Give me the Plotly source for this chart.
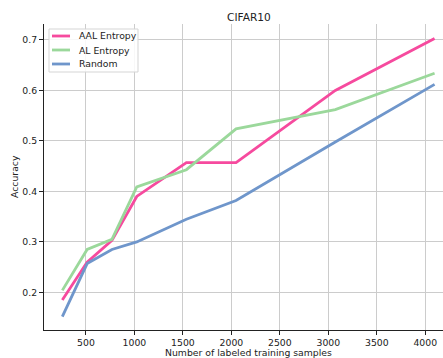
import plotly.graph_objects as go

# labeled training set sizes
samples = [256, 512, 768, 1024, 1536, 2048, 3072, 4096]

# test accuracy per strategy
aal_entropy = [0.185, 0.260, 0.303, 0.390, 0.457, 0.457, 0.600, 0.703]
al_entropy = [0.204, 0.285, 0.305, 0.409, 0.443, 0.524, 0.562, 0.634]
random_sel = [0.152, 0.257, 0.285, 0.300, 0.345, 0.382, 0.498, 0.612]

x_ticks = [500, 1000, 1500, 2000, 2500, 3000, 3500, 4000]
y_ticks = [0.2, 0.3, 0.4, 0.5, 0.6, 0.7]

series_names = ["AAL Entropy", "AL Entropy", "Random"]
series_values = [aal_entropy, al_entropy, random_sel]
series_colors = ["#f64a9e", "#9bd89b", "#6f96cb"]

# plot area in pixels (figure is 443 x 358)
W, H = 443, 358
L, R, T, B = 44, 0, 24, 28
PW, PH = W - L - R, H - T - B


def px_x(px):
    return (px - L) / PW


def px_y(py):
    return (H - B - py) / PH


TEXT = "#222222"
FONT = "DejaVu Sans"

fig = go.Figure()
for name, vals, color in zip(series_names, series_values, series_colors):
    fig.add_trace(go.Scatter(
        x=samples, y=vals, name=name, mode="lines",
        line=dict(color=color, width=2.8),
        showlegend=False,
    ))

axis_common = dict(
    showgrid=True, gridcolor="#cccccc", gridwidth=1,
    showline=True, linecolor=TEXT, linewidth=1,
    ticks="outside", ticklen=4, tickcolor=TEXT,
    tickfont=dict(size=9.3, color=TEXT),
    zeroline=False,
)

annotations = [
    # title
    dict(text="CIFAR10", x=px_x(249), y=px_y(16.5), xref="paper", yref="paper",
         xanchor="center", yanchor="middle", showarrow=False,
         font=dict(size=10.6, color=TEXT)),
    # x axis title
    dict(text="Number of labeled training samples", x=px_x(248), y=px_y(352.5),
         xref="paper", yref="paper", xanchor="center", yanchor="middle",
         showarrow=False, font=dict(size=9.3, color=TEXT)),
    # y axis title
    dict(text="Accuracy", x=px_x(14), y=px_y(177), xref="paper", yref="paper",
         xanchor="center", yanchor="middle", textangle=-90, showarrow=False,
         font=dict(size=9.3, color=TEXT)),
]

# legend box drawn with shapes and text
shapes = [
    dict(type="rect", xref="paper", yref="paper",
         x0=px_x(49), x1=px_x(138), y0=px_y(72), y1=px_y(29),
         line=dict(color="#d5d5d5", width=1), fillcolor="rgba(255,255,255,0.85)",
         layer="above"),
]
for i, (name, color) in enumerate(zip(series_names, series_colors)):
    ypix = 36 + 14 * i
    shapes.append(dict(type="line", xref="paper", yref="paper",
                       x0=px_x(52), x1=px_x(70), y0=px_y(ypix), y1=px_y(ypix),
                       line=dict(color=color, width=2.8), layer="above"))
    annotations.append(dict(text=name, x=px_x(77), y=px_y(ypix), xref="paper",
                            yref="paper", xanchor="left", yanchor="middle",
                            showarrow=False, font=dict(size=9.3, color=TEXT)))

fig.update_layout(
    width=W, height=H,
    margin=dict(l=L, r=R, t=T, b=B),
    paper_bgcolor="white", plot_bgcolor="white",
    font=dict(family=FONT, color=TEXT),
    xaxis=dict(range=[67, 4183], tickvals=x_ticks, **axis_common),
    yaxis=dict(range=[0.1255, 0.7316], tickvals=y_ticks, tickformat=".1f",
               **axis_common),
    annotations=annotations,
    shapes=shapes,
    showlegend=False,
)

fig.write_html("out.html")
